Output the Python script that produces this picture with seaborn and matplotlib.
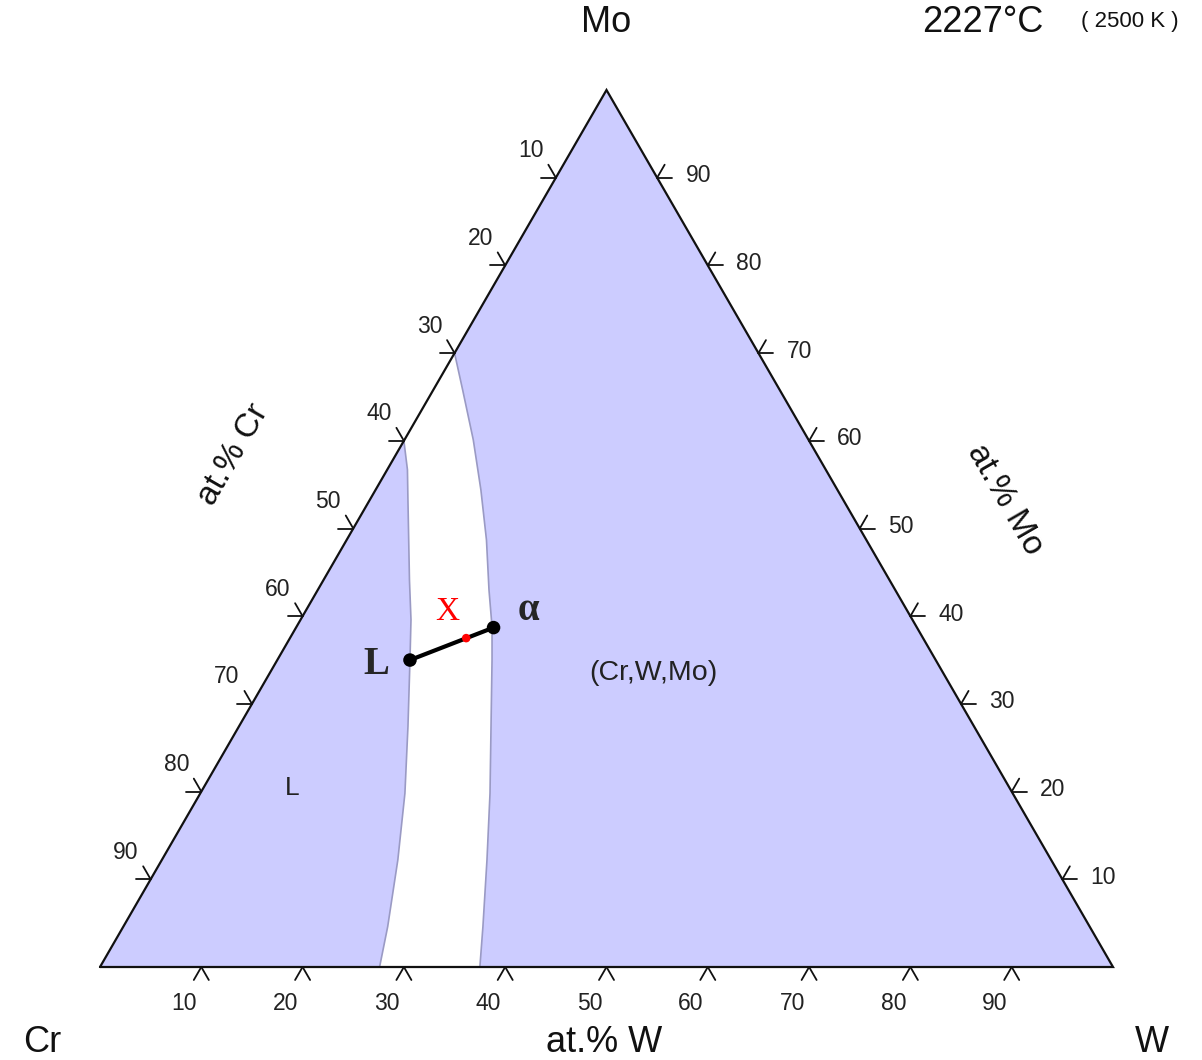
import numpy as np
import matplotlib
matplotlib.use('Agg')
import matplotlib.pyplot as plt
import seaborn as sns

######### DATA (at.%) #########

# boundary of the L field, (W, Mo) pairs
liquidus_w = [0, 2.0, 3.8, 8.5, 10.9, 13.1, 16.7, 20.2, 23.3, 26.1, 27.6]
liquidus_mo = [60, 56.7, 53.2, 44.1, 39.6, 35.0, 27.4, 19.8, 12.2, 4.6, 0]

# boundary of the (Cr,W,Mo) field
solidus_w = [0, 2.9, 6.8, 10.4, 13.8, 16.9, 19.3, 21.2, 24.9, 28.6, 32.1, 35.5, 37.5]
solidus_mo = [70, 65.8, 60.1, 54.4, 48.7, 43.0, 38.8, 35.0, 27.4, 19.8, 12.2, 4.6, 0]

# tie line L - alpha and alloy X
tie_w = [13.1, 19.5]
tie_mo = [35.0, 38.7]
alloy_w = [17.4]
alloy_mo = [37.5]

tick_values = [10, 20, 30, 40, 50, 60, 70, 80, 90]

######### LAYOUT #########

CR_X, BASE_Y, SIDE = 100, 967, 1013
HEIGHT = 877
FILL = '#ccccff'
EDGE = '#9a9ac4'
TICK_LEN = 15
INK = '#111111'


def to_xy(w, mo):
    # ternary composition (percent) -> pixel coords of the drawing
    w = np.asarray(w, dtype=float) / 100
    mo = np.asarray(mo, dtype=float) / 100
    return CR_X + SIDE * (w + mo / 2), BASE_Y - HEIGHT * mo


sns.set_style('white')
plt.rcParams['font.family'] = ['Liberation Sans', 'DejaVu Sans']

fig = plt.figure(figsize=(12.02, 10.6), dpi=100)
ax = fig.add_axes([0, 0, 1, 1])
ax.set_xlim(0, 1202)
ax.set_ylim(1060, 0)
ax.axis('off')

# corners
cr_xy = to_xy(0, 0)
w_xy = to_xy(100, 0)
mo_xy = to_xy(0, 100)

# L field: Cr corner, up the Cr-Mo edge, down the boundary
lx, ly = to_xy(liquidus_w, liquidus_mo)
ax.fill(np.r_[cr_xy[0], lx, cr_xy[0]], np.r_[cr_xy[1], ly, cr_xy[1]], color=FILL, lw=0)

# (Cr,W,Mo) field
sx, sy = to_xy(solidus_w, solidus_mo)
ax.fill(np.r_[sx, w_xy[0], mo_xy[0]], np.r_[sy, w_xy[1], mo_xy[1]], color=FILL, lw=0)

sns.lineplot(x=lx, y=ly, sort=False, estimator=None, color=EDGE, lw=1.2, ax=ax)
sns.lineplot(x=sx, y=sy, sort=False, estimator=None, color=EDGE, lw=1.2, ax=ax)

# triangle outline
ax.plot([cr_xy[0], w_xy[0], mo_xy[0], cr_xy[0]], [cr_xy[1], w_xy[1], mo_xy[1], cr_xy[1]],
        color=INK, lw=1.6, solid_joinstyle='miter')


def tick(x0, y0, angles):
    # two short strokes meeting at the edge
    for a in angles:
        r = np.deg2rad(a)
        ax.plot([x0, x0 + TICK_LEN * np.cos(r)], [y0, y0 - TICK_LEN * np.sin(r)],
                color=INK, lw=1.3)


tick_font = dict(fontsize=16.5, color='#222222', ha='center', va='center')
for v in tick_values:
    # bottom edge: at.% W
    bx, by = to_xy(v, 0)
    tick(bx, by, [-60, -120])
    ax.text(bx - 17, by + 37, str(v), **tick_font)
    # left edge: at.% Cr (Mo = 100 - Cr)
    ex, ey = to_xy(0, 100 - v)
    tick(ex, ey, [180, 120])
    ax.text(ex - 25, ey - 27, str(v), **tick_font)
    # right edge: at.% Mo
    rx, ry = to_xy(100 - v, v)
    tick(rx, ry, [0, 60])
    ax.text(rx + 41, ry - 2, str(v), **tick_font)

# tie line and alloy
tx, ty = to_xy(tie_w, tie_mo)
sns.lineplot(x=tx, y=ty, sort=False, estimator=None, color='black', lw=3, ax=ax)
sns.scatterplot(x=tx, y=ty, color='black', s=95, edgecolor='none', ax=ax, zorder=5)
px, py = to_xy(alloy_w, alloy_mo)
sns.scatterplot(x=px, y=py, color='red', s=38, edgecolor='none', ax=ax, zorder=6)

serif = ['Liberation Serif', 'DejaVu Serif']
ax.text(376, 664, 'L', family=serif, fontsize=28, fontweight='bold', ha='center', va='center')
ax.text(528, 610, 'α', family=serif, fontsize=28, fontweight='bold', ha='center', va='center')
ax.text(447, 612, 'X', family=serif, fontsize=24, color='red', ha='center', va='center')

# phase labels
ax.text(653, 673, '(Cr,W,Mo)', fontsize=20.5, color='#222222', ha='center', va='center')
ax.text(292, 788, 'L', fontsize=19, color='#222222', ha='center', va='center')

# corner and axis labels
ax.text(606, 22, 'Mo', fontsize=26, color=INK, ha='center', va='center')
ax.text(42, 1042, 'Cr', fontsize=26, color=INK, ha='center', va='center')
ax.text(1152, 1042, 'W', fontsize=26, color=INK, ha='center', va='center')
ax.text(604, 1042, 'at.% W', fontsize=26, color=INK, ha='center', va='center')
ax.text(233, 455, 'at.% Cr', fontsize=24, color=INK, rotation=60, ha='center', va='center')
ax.text(1005, 500, 'at.% Mo', fontsize=24, color=INK, rotation=-60, ha='center', va='center')

ax.text(983, 22, '2227°C', fontsize=26, color=INK, ha='center', va='center')
ax.text(1130, 22, '( 2500 K )', fontsize=16, color=INK, ha='center', va='center')

fig.savefig('out.png', dpi=100)
